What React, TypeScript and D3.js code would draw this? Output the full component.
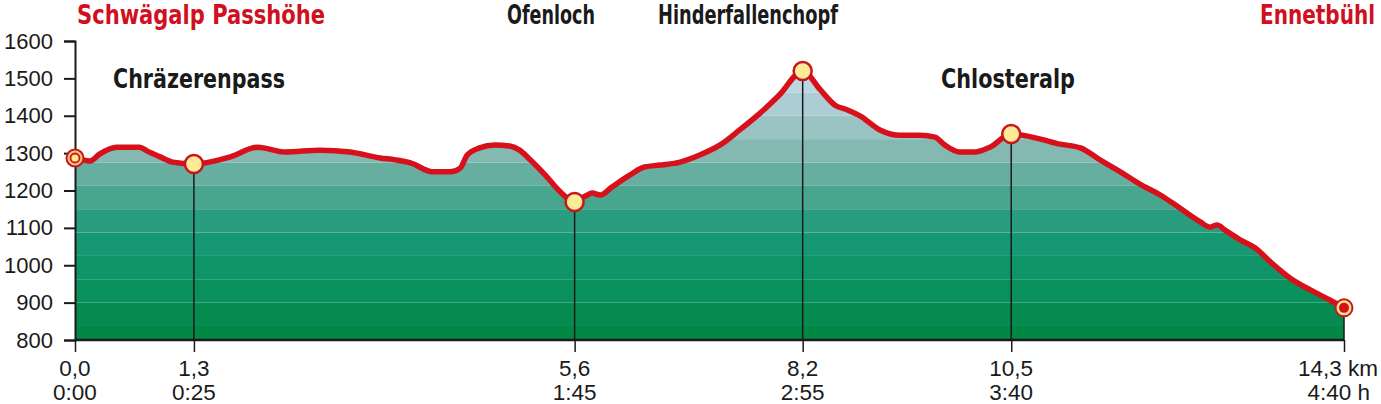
import React, { useEffect, useRef } from "react";
import * as d3 from "d3";

// profile (km, m)
const profileKm = [
  0, 0.17, 0.28, 0.47, 0.73, 0.81, 0.96, 1.1, 1.34, 1.75, 2.06, 2.37, 2.76, 3.1, 3.44, 3.61, 3.78,
  4.03, 4.23, 4.34, 4.42, 4.56, 4.73, 4.9, 5.01, 5.13, 5.3, 5.47, 5.63, 5.75, 5.83, 5.92, 6.05, 6.25,
  6.42, 6.59, 6.82, 7.04, 7.27, 7.49, 7.72, 7.94, 8.2, 8.4, 8.56, 8.71, 8.85, 9.07, 9.3, 9.52, 9.69,
  9.8, 9.97, 10.14, 10.31, 10.55, 10.87, 11.1, 11.33, 11.55, 11.78, 12.0, 12.23, 12.45, 12.68, 12.79,
  12.87, 12.96, 13.13, 13.3, 13.47, 13.69, 13.92, 14.14, 14.3,
];
const profileElev = [
  1287, 1279, 1298, 1316, 1316, 1306, 1290, 1276, 1271, 1290, 1316, 1303, 1308, 1303, 1287, 1282, 1274,
  1250, 1250, 1260, 1295, 1314, 1322, 1319, 1308, 1282, 1241, 1196, 1169, 1185, 1193, 1188, 1209, 1241,
  1263, 1268, 1276, 1295, 1322, 1362, 1407, 1456, 1520, 1469, 1429, 1415, 1399, 1362, 1348, 1348, 1343,
  1322, 1303, 1303, 1316, 1351, 1338, 1324, 1314, 1282, 1250, 1217, 1188, 1153, 1116, 1102,
  1108, 1094, 1068, 1046, 1009, 966, 934, 907, 886,
];

// waypoints on the route
const stopKm = [0, 1.34, 5.63, 8.2, 10.55, 14.3];
const stopElev = [1287, 1271, 1169, 1520, 1351, 886];
const stopDist = ["0,0", "1,3", "5,6", "8,2", "10,5", "14,3 km"];
const stopTime = ["0:00", "0:25", "1:45", "2:55", "3:40", "4:40 h"];

const placeNames = [
  "Schwägalp Passhöhe", "Chräzerenpass", "Ofenloch", "Hinderfallenchopf", "Chlosteralp", "Ennetbühl",
];
const placeIsEnd = [true, false, false, false, false, true];

const yTicks = [800, 900, 1000, 1100, 1200, 1300, 1400, 1500, 1600];

// elevation bands (m) and their tint, bottom to top
const bandEdges = [800, 837.5, 900, 962.5, 1025, 1087.5, 1150, 1212.5, 1275, 1337.5, 1400, 1462.5, 1600];
const bandColors = [
  "#028744", "#058b50", "#09905b", "#0e9466", "#169873", "#2a9d80",
  "#48a58e", "#66ae9f", "#83b9b1", "#99c4c3", "#accdd4", "#bdd7e1",
];

export default function App() {
  const svgRef = useRef<SVGSVGElement>(null);

  useEffect(() => {
    document.body.style.margin = "0";
    if (!svgRef.current) return;
    const svg = d3.select(svgRef.current);
    svg.selectAll("*").remove();

    const x = d3.scaleLinear().domain([0, 14.3]).range([75, 1344]);
    const y = d3.scaleLinear().domain([800, 1600]).range([340, 41]);

    const pts = profileKm.map((k, i) => ({ km: k, m: profileElev[i] }));
    const red = "#d7101b";
    const labelFont = "Liberation Sans, Arial, sans-serif";
    const nameFont = "'Liberation Sans Narrow', 'DejaVu Sans Condensed', 'Roboto Condensed', sans-serif";

    // clip for the terrain
    const area = d3.area<{ km: number; m: number }>()
      .x(d => x(d.km))
      .y0(y(800))
      .y1(d => y(d.m))
      .curve(d3.curveMonotoneX);

    svg.append("clipPath").attr("id", "terrain")
      .append("path").datum(pts).attr("d", area);

    const bands = svg.append("g").attr("clip-path", "url(#terrain)");
    bandColors.forEach((c, i) => {
      bands.append("rect")
        .attr("x", x(0))
        .attr("width", x(14.3) - x(0))
        .attr("y", y(bandEdges[i + 1]))
        .attr("height", y(bandEdges[i]) - y(bandEdges[i + 1]))
        .attr("fill", c);
    });

    // drop lines from the waypoints
    stopKm.forEach((k, i) => {
      if (i === 0) return;
      svg.append("line")
        .attr("x1", x(k)).attr("x2", x(k))
        .attr("y1", y(stopElev[i])).attr("y2", y(800))
        .attr("stroke", "#1a1a1a").attr("stroke-width", 1.5);
    });

    // axes
    const yAxis = svg.append("g").attr("transform", `translate(${x(0)},0)`)
      .call(d3.axisLeft(y).tickValues(yTicks).tickSize(11).tickPadding(11).tickFormat(d3.format("d")));
    yAxis.select(".domain").attr("stroke", "#1a1a1a").attr("stroke-width", 2);
    yAxis.selectAll("line").attr("stroke", "#1a1a1a").attr("stroke-width", 2);
    yAxis.selectAll("text")
      .attr("fill", "#1a1a1a")
      .style("font-family", labelFont)
      .style("font-size", "22px");

    const xAxis = svg.append("g").attr("transform", `translate(0,${y(800)})`)
      .call(d3.axisBottom(x).tickValues(stopKm).tickSize(12).tickFormat(() => ""));
    xAxis.select(".domain").attr("stroke", "#1a1a1a").attr("stroke-width", 2.5)
      .attr("d", `M${x(0)},0H${x(14.3)}`);
    xAxis.selectAll("line").attr("stroke", "#1a1a1a").attr("stroke-width", 1.5);

    // distance / time labels under each waypoint
    stopKm.forEach((k, i) => {
      const last = i === stopKm.length - 1;
      const rows: [string, number, number][] = [
        [stopDist[i], 376, last ? 1378 : x(k)],
        [stopTime[i], 400, last ? 1370 : x(k)],
      ];
      rows.forEach(([txt, ty, tx]) => {
        svg.append("text")
          .attr("x", tx)
          .attr("y", ty)
          .attr("text-anchor", last ? "end" : "middle")
          .attr("fill", "#1a1a1a")
          .style("font-family", labelFont)
          .style("font-size", "22.5px")
          .text(txt);
      });
    });

    // route line
    const line = d3.line<{ km: number; m: number }>()
      .x(d => x(d.km))
      .y(d => y(d.m))
      .curve(d3.curveMonotoneX);

    svg.append("path")
      .datum(pts)
      .attr("fill", "none")
      .attr("stroke", red)
      .attr("stroke-width", 5.5)
      .attr("stroke-linejoin", "round")
      .attr("stroke-linecap", "round")
      .attr("d", line);

    // waypoint markers
    stopKm.forEach((k, i) => {
      const cx = x(k), cy = y(stopElev[i]);
      const g = svg.append("g").attr("transform", `translate(${cx},${cy})`);
      if (i === 0) {
        g.append("circle").attr("r", 8.5).attr("fill", "#f9c47c").attr("stroke", "#c8161d").attr("stroke-width", 2);
        g.append("circle").attr("r", 4.5).attr("fill", "#fde791").attr("stroke", "#c8161d").attr("stroke-width", 1.8);
      } else if (i === stopKm.length - 1) {
        g.append("circle").attr("r", 8.5).attr("fill", "#fde08a").attr("stroke", "#c8161d").attr("stroke-width", 2);
        g.append("circle").attr("r", 5).attr("fill", "#d5121c");
      } else {
        g.append("circle").attr("r", 9).attr("fill", "#feeb97").attr("stroke", "#c8161d").attr("stroke-width", 2.5);
      }
    });

    // place names
    const namePos = [
      { x: 77, y: 24, w: 248 },
      { x: 113, y: 88, w: 172 },
      { x: 507, y: 24, w: 88 },
      { x: 658, y: 24, w: 180 },
      { x: 941, y: 88, w: 134 },
      { x: 1260, y: 24, w: 115 },
    ];
    placeNames.forEach((name, i) => {
      const p = namePos[i];
      svg.append("text")
        .attr("x", p.x)
        .attr("y", p.y)
        .attr("textLength", p.w)
        .attr("lengthAdjust", "spacingAndGlyphs")
        .attr("fill", placeIsEnd[i] ? "#d0101f" : "#1a1a1a")
        .style("font-family", nameFont)
        .style("font-size", "27px")
        .style("font-weight", "bold")
        .text(name);
    });
  }, []);

  return <svg ref={svgRef} width={1381} height={404} style={{ display: "block", background: "#fff" }} />;
}
